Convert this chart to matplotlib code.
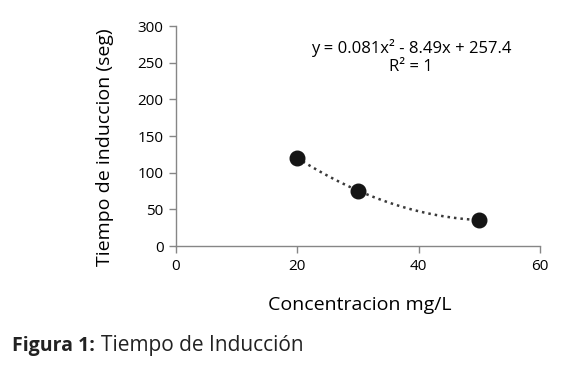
import numpy as np
import matplotlib
matplotlib.use("Agg")
import matplotlib.pyplot as plt

# data
concentracion = [20, 30, 50]
tiempo = [120, 75.6, 35.4]
x_ticks = [0, 20, 40, 60]
y_ticks = [0, 50, 100, 150, 200, 250, 300]
ecuacion = "y = 0.081x² - 8.49x + 257.4\nR² = 1"

plt.rcParams["font.family"] = ["Open Sans", "DejaVu Sans"]

fig = plt.figure(figsize=(5.7, 3.7), dpi=100)
ax = fig.add_axes([176 / 570, 1 - 246 / 370, 364 / 570, 220 / 370])

# polynomial trendline (order 2), like the spreadsheet one
coef = np.polyfit(concentracion, tiempo, 2)
xs = np.linspace(min(concentracion), max(concentracion), 100)
ax.plot(xs, np.polyval(coef, xs), linestyle=(0, (1, 1.6)), color="#3a3a3a", linewidth=1.8)
ax.plot(concentracion, tiempo, "o", color="#151515", markersize=10.5, zorder=3)

ax.set_xlim(0, 60)
ax.set_ylim(0, 300)
ax.set_xticks(x_ticks)
ax.set_yticks(y_ticks)
ax.tick_params(labelsize=11, length=5, color="#868686", width=1, pad=4)
for side in ["top", "right"]:
    ax.spines[side].set_visible(False)
for side in ["left", "bottom"]:
    ax.spines[side].set_color("#868686")
    ax.spines[side].set_linewidth(1)

fig.text(411 / 570, 1 - 57 / 370, ecuacion, ha="center", va="center",
         fontsize=12, linespacing=1.2)

fig.text(105 / 570, 1 - 147 / 370, "Tiempo de induccion (seg)", rotation=90,
         ha="center", va="center", fontsize=14)
fig.text(360 / 570, 1 - 305 / 370, "Concentracion mg/L", ha="center", va="center",
         fontsize=14)

fig.text(12 / 570, 1 - 351 / 370, "Figura 1:", ha="left", va="baseline",
         fontsize=14, fontweight="bold", color="#222222")
fig.text(101 / 570, 1 - 351 / 370, "Tiempo de Inducción", ha="left", va="baseline",
         fontsize=15, color="#222222")

fig.savefig("out.png", dpi=100)
